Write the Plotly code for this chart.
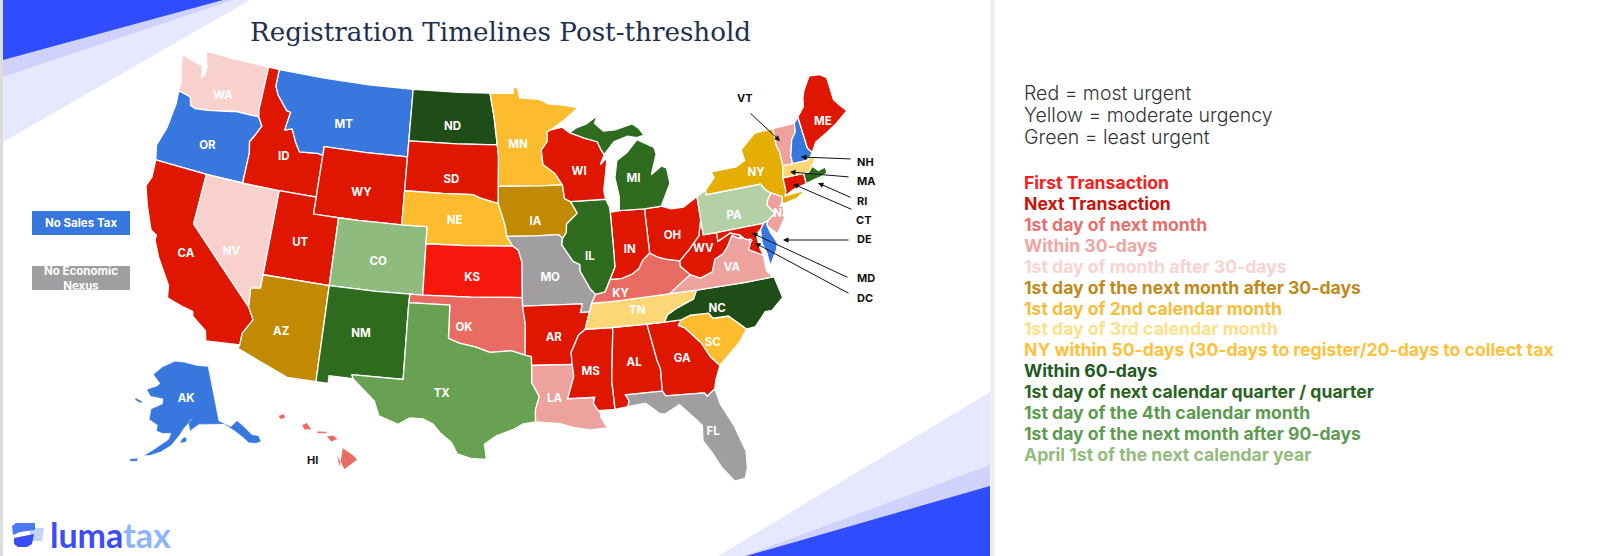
import plotly.graph_objects as go

# state outlines, lon/lat
WA = [(-124.7,48.4),(-123.1,48.15),(-122.7,48.1),(-122.5,47.4),(-122.3,47.6),(-122.3,48.1),(-122.5,48.5),(-122.75,49),(-120,49),(-117.03,49),(-117.04,46.42),(-116.92,45.99),(-118.98,46),(-119.3,45.93),(-121.2,45.65),(-122.3,45.55),(-122.75,45.65),(-122.95,46.1),(-123.4,46.2),(-124.05,46.27),(-124.1,46.9),(-124.4,47.5)]
OR = [(-124.05,46.27),(-123.4,46.2),(-122.95,46.1),(-122.75,45.65),(-122.3,45.55),(-121.2,45.65),(-119.3,45.93),(-118.98,46),(-116.92,45.99),(-116.5,45.5),(-116.85,44.95),(-117.22,44.45),(-117.03,43.8),(-117.03,42),(-120,42),(-124.21,42),(-124.5,42.85),(-124.1,44),(-123.95,45.5)]
CA = [(-124.21,42),(-120,42),(-120,39),(-114.63,35),(-114.14,34.3),(-114.72,33.4),(-114.72,32.72),(-117.12,32.53),(-117.3,33.1),(-118.4,33.75),(-118.5,34.03),(-119.2,34.15),(-120.5,34.45),(-120.65,35.15),(-121.9,36.6),(-122.5,37.5),(-122.5,37.8),(-123,38),(-123.8,39.3),(-124.35,40.4),(-124.1,41)]
NV = [(-120,42),(-117.03,42),(-114.04,42),(-114.04,37),(-114.04,36.2),(-114.75,36.1),(-114.63,35),(-120,39)]
ID = [(-117.03,49),(-116.05,49),(-116.05,48),(-115.7,47.5),(-114.7,46.7),(-114.35,46.65),(-114.55,45.56),(-113.95,45.7),(-113.45,44.95),(-113,44.45),(-111.5,44.55),(-111.05,44.48),(-111.05,42),(-114.04,42),(-117.03,42),(-117.03,43.8),(-117.22,44.45),(-116.85,44.95),(-116.5,45.5),(-116.92,45.99),(-117.04,46.42)]
MT = [(-116.05,49),(-112,49),(-108,49),(-104.05,49),(-104.05,45.94),(-104.05,45),(-107.5,45),(-111.05,45),(-111.05,44.48),(-111.5,44.55),(-113,44.45),(-113.45,44.95),(-113.95,45.7),(-114.55,45.56),(-114.35,46.65),(-114.7,46.7),(-115.7,47.5),(-116.05,48)]
WY = [(-111.05,45),(-107.5,45),(-104.05,45),(-104.05,43),(-104.05,41),(-107.5,41),(-111.05,41),(-111.05,42),(-111.05,44.48)]
UT = [(-114.04,42),(-111.05,42),(-111.05,41),(-109.05,41),(-109.05,37),(-114.04,37)]
AZ = [(-114.04,37),(-109.05,37),(-109.05,31.33),(-111.07,31.33),(-114.81,32.49),(-114.72,32.72),(-114.72,33.4),(-114.14,34.3),(-114.63,35),(-114.75,36.1),(-114.04,36.2)]
CO = [(-109.05,41),(-107.5,41),(-104.05,41),(-102.05,41),(-102.05,40),(-102.05,37),(-103,37),(-105.5,37),(-109.05,37)]
NM = [(-109.05,37),(-105.5,37),(-103,37),(-103.04,36.5),(-103.04,32),(-106.62,32),(-106.53,31.78),(-108.2,31.78),(-108.2,31.33),(-109.05,31.33)]
ND = [(-104.05,49),(-100,49),(-97.23,49),(-96.85,47.6),(-96.56,45.94),(-100,45.94),(-104.05,45.94)]
SD = [(-104.05,45.94),(-100,45.94),(-96.56,45.94),(-96.45,45.3),(-96.45,43.5),(-96.45,42.49),(-97.9,42.8),(-98.5,43),(-101,43),(-104.05,43)]
NE = [(-104.05,43),(-101,43),(-98.5,43),(-97.9,42.8),(-96.45,42.49),(-96.1,41.7),(-95.9,41.2),(-95.77,40.58),(-95.3,40),(-99,40),(-102.05,40),(-102.05,41),(-104.05,41)]
KS = [(-102.05,40),(-99,40),(-95.3,40),(-94.9,39.8),(-94.62,39.1),(-94.62,37),(-98.5,37),(-102.05,37)]
OK = [(-103,37),(-102.05,37),(-98.5,37),(-94.62,37),(-94.62,36.5),(-94.43,35.4),(-94.48,33.64),(-95.5,33.9),(-97,33.8),(-98,34.1),(-99.2,34.3),(-100,34.56),(-100,36.5),(-103.04,36.5)]
# south Texas drawn shorter, as the picture has it
TX = [(-103.04,36.5),(-100,36.5),(-100,34.56),(-99.2,34.3),(-98,34.1),(-97,33.8),(-95.5,33.9),(-94.48,33.64),(-94.04,33.55),(-94.04,33.02),(-94.04,31.99),(-93.55,31.2),(-93.84,30.4),(-93.85,29.7),(-94.7,29.6),(-95.3,29.3),(-96.5,28.9),(-97.3,28.4),(-97.15,27.5),(-98.2,27.55),(-99.1,27.8),(-99.5,28.45),(-100.3,29),(-100.8,29.5),(-101.5,29.77),(-102.4,29.77),(-103.15,29.35),(-104.5,29.75),(-104.9,30.6),(-106.53,31.78),(-106.62,32),(-103.04,32)]
MN = [(-97.23,49),(-95.15,49),(-95.15,49.38),(-94.8,49.3),(-94.6,48.72),(-92.9,48.6),(-92,48.3),(-90.8,48.2),(-89.5,48),(-90.8,47.3),(-92.05,46.75),(-92.3,46.65),(-92.3,46.1),(-92.85,45.6),(-92.75,44.75),(-91.8,44.2),(-91.22,43.5),(-93,43.5),(-96.45,43.5),(-96.45,45.3),(-96.56,45.94),(-96.85,47.6)]
IA = [(-96.45,43.5),(-93,43.5),(-91.22,43.5),(-91.1,42.7),(-90.64,42.5),(-90.15,41.8),(-91.05,41.2),(-91.1,40.7),(-91.42,40.38),(-91.73,40.61),(-93.5,40.58),(-95.77,40.58),(-95.9,41.2),(-96.1,41.7),(-96.45,42.49)]
MO = [(-95.77,40.58),(-93.5,40.58),(-91.73,40.61),(-91.42,40.38),(-91.5,40),(-90.7,39),(-90.2,38.8),(-90.2,38.4),(-89.5,37.3),(-89.15,37),(-89.5,36.5),(-89.7,36),(-90.37,36),(-90.2,36.5),(-94.62,36.5),(-94.62,37),(-94.62,39.1),(-94.9,39.8),(-95.3,40)]
AR = [(-94.62,36.5),(-90.2,36.5),(-90.37,36),(-89.7,36),(-90.1,35),(-90.6,34.7),(-91.2,33.7),(-91.17,33),(-94.04,33.02),(-94.04,33.55),(-94.48,33.64),(-94.43,35.4)]
LA = [(-94.04,33.02),(-91.17,33),(-91.1,32.3),(-91.6,31),(-89.73,31),(-89.85,30.65),(-89.55,30.2),(-89.4,30.05),(-89.4,29.8),(-89,29.15),(-90.2,29.1),(-91.3,29.3),(-92.2,29.55),(-93.85,29.7),(-93.84,30.4),(-93.55,31.2),(-94.04,31.99)]
MS = [(-91.17,33),(-91.2,33.7),(-90.6,34.7),(-90.1,35),(-88.2,35),(-88.1,34.9),(-88.47,31.9),(-88.4,30.2),(-89.55,30.2),(-89.85,30.65),(-89.73,31),(-91.6,31),(-91.1,32.3)]
AL = [(-88.2,35),(-85.6,35),(-85.18,32.87),(-85,32.3),(-85.05,31),(-87.6,31),(-87.4,30.65),(-87.5,30.3),(-88,30.25),(-88.4,30.2),(-88.47,31.9),(-88.1,34.9)]
GA = [(-85.6,35),(-84.32,35),(-83.1,35),(-83.35,34.7),(-82.9,34.5),(-81.9,33.5),(-81.4,32.6),(-80.85,32.03),(-81.3,31.2),(-81.45,30.72),(-82.05,30.36),(-82.2,30.57),(-84.86,30.7),(-85.05,31),(-85,32.3),(-85.18,32.87)]
FL = [(-87.6,31),(-85.05,31),(-84.86,30.7),(-82.2,30.57),(-82.05,30.36),(-81.45,30.72),(-81.25,29.8),(-80.55,28.4),(-80.05,26.8),(-80.15,25.75),(-80.4,25.2),(-81.1,25.15),(-81.8,26.1),(-82.2,26.9),(-82.75,27.8),(-82.65,28.7),(-83.4,29.5),(-84,30.1),(-85,29.65),(-85.4,29.7),(-86.3,30.4),(-87.5,30.3),(-87.4,30.65)]
SC = [(-83.35,34.7),(-83.1,35),(-82.4,35.2),(-81.05,35.15),(-80.8,34.82),(-79.67,34.8),(-78.55,33.86),(-79.2,33.2),(-79.9,32.7),(-80.85,32.03),(-81.4,32.6),(-81.9,33.5),(-82.9,34.5)]
NC = [(-84.32,35),(-83.1,35),(-82.4,35.2),(-81.05,35.15),(-80.8,34.82),(-79.67,34.8),(-78.55,33.86),(-77.9,33.9),(-77,34.65),(-76.5,34.65),(-75.55,35.25),(-75.85,36.55),(-78,36.55),(-81.68,36.59),(-82,36.1),(-83.2,35.75),(-84.05,35.4)]
TN = [(-89.5,36.5),(-88,36.5),(-84,36.6),(-83.68,36.6),(-81.68,36.59),(-82,36.1),(-83.2,35.75),(-84.05,35.4),(-84.32,35),(-85.6,35),(-88.2,35),(-90.1,35),(-89.7,36)]
KY = [(-89.15,37),(-88.45,37.1),(-88,37.8),(-87.1,37.8),(-86.3,38),(-85.75,38.27),(-85.4,38.73),(-84.8,39.1),(-84.2,38.8),(-83.65,38.63),(-82.6,38.42),(-82.6,38.1),(-81.97,37.54),(-83.68,36.6),(-84,36.6),(-88,36.5),(-89.5,36.5)]
VA = [(-83.68,36.6),(-81.97,37.54),(-81.25,37.25),(-80.3,37.5),(-79.95,38.2),(-79.3,38.42),(-78.87,38.77),(-78.35,39.4),(-77.83,39.14),(-77.5,39.1),(-77.12,38.93),(-77.04,38.8),(-77.3,38.4),(-76.3,37.9),(-76.3,37),(-75.95,36.55),(-75.85,36.55),(-78,36.55),(-81.68,36.59)]
WV = [(-81.97,37.54),(-82.6,38.1),(-82.6,38.42),(-81.75,39),(-80.87,39.7),(-80.52,40.64),(-80.52,39.72),(-79.48,39.72),(-79.48,39.2),(-78.45,39.55),(-77.72,39.32),(-77.83,39.14),(-78.35,39.4),(-78.87,38.77),(-79.3,38.42),(-79.95,38.2),(-80.3,37.5),(-81.25,37.25)]
OH = [(-84.8,39.1),(-84.2,38.8),(-83.65,38.63),(-82.6,38.42),(-81.75,39),(-80.87,39.7),(-80.52,40.64),(-80.52,41.98),(-81.7,41.5),(-82.7,41.5),(-83.45,41.73),(-84.8,41.7)]
IN = [(-84.8,41.7),(-84.8,39.1),(-85.4,38.73),(-85.75,38.27),(-86.3,38),(-87.1,37.8),(-88,37.8),(-87.55,38.5),(-87.53,39.35),(-87.53,41.7),(-86.8,41.76)]
IL = [(-87.53,41.7),(-87.53,39.35),(-87.55,38.5),(-88,37.8),(-88.45,37.1),(-89.15,37),(-89.5,37.3),(-90.2,38.4),(-90.2,38.8),(-90.7,39),(-91.5,40),(-91.42,40.38),(-91.1,40.7),(-91.05,41.2),(-90.15,41.8),(-90.64,42.5),(-87.8,42.49),(-87.55,42)]
WI = [(-90.64,42.5),(-91.1,42.7),(-91.22,43.5),(-91.8,44.2),(-92.75,44.75),(-92.85,45.6),(-92.3,46.1),(-92.3,46.65),(-92.05,46.75),(-91,46.9),(-90.4,46.55),(-89.1,46.15),(-88.1,45.9),(-87.8,45.35),(-87.6,45.1),(-88,44.55),(-87.4,44.9),(-87.55,44.3),(-87.9,43),(-87.8,42.49)]
MI_LOWER = [(-86.8,41.76),(-84.8,41.7),(-83.45,41.73),(-83.1,42.2),(-82.5,43),(-82.6,43.9),(-83,44.07),(-83.9,43.65),(-83.3,44.8),(-83.4,45.2),(-84.75,45.78),(-85.7,45.1),(-86.6,44.7),(-86.9,43.7),(-86.7,42.6)]
MI_UPPER = [(-90.4,46.55),(-89.1,46.15),(-88.1,45.9),(-87.8,45.35),(-87.6,45.1),(-86.7,45.8),(-85.5,46.05),(-84.75,45.9),(-84.1,46),(-84.5,46.45),(-85,46.75),(-86.5,46.5),(-87.5,46.5),(-88.2,47),(-87.9,47.45),(-88.9,47),(-89.8,46.8)]
PA = [(-80.52,41.98),(-79.76,42.27),(-79.76,42),(-75.35,42),(-75.05,41.6),(-74.7,41.36),(-75.1,40.95),(-75.2,40.7),(-74.72,40.15),(-75.4,39.82),(-75.79,39.72),(-79.48,39.72),(-80.52,39.72),(-80.52,40.64)]
NY = [(-79.76,42),(-79.76,42.27),(-78.9,42.9),(-79.05,43.27),(-77,43.28),(-76.2,43.55),(-76.3,44.2),(-75,44.95),(-74.7,45),(-73.35,45),(-73.4,44),(-73.25,43.55),(-73.28,42.75),(-73.5,42.05),(-73.5,41.3),(-73.65,41),(-72,41.05),(-72.8,40.7),(-73.9,40.58),(-74,40.7),(-73.9,41),(-74.7,41.36),(-75.05,41.6),(-75.35,42)]
NJ = [(-74.7,41.36),(-73.9,41),(-74,40.7),(-74.25,40.48),(-74,40.45),(-74.1,39.75),(-74.9,38.95),(-75.4,39.4),(-75.55,39.6),(-75.4,39.82),(-74.72,40.15),(-75.2,40.7),(-75.1,40.95)]
DE = [(-75.79,39.72),(-75.4,39.82),(-75.55,39.6),(-75.4,39.1),(-75.05,38.45),(-75.25,38.03),(-75.95,37.2),(-76,37.95),(-76.2,38.6),(-76.1,39.4)]
MD = [(-79.48,39.72),(-75.79,39.72),(-76.1,39.4),(-76.5,39.2),(-76.45,38.4),(-76.3,37.9),(-77.3,38.4),(-77.04,38.8),(-77.12,38.93),(-77.5,39.1),(-77.72,39.32),(-78.45,39.55),(-79.48,39.2)]
DC = [(-77.12,38.93),(-77.04,39),(-76.91,38.89),(-77.04,38.8)]
CT = [(-73.5,42.05),(-71.8,42.02),(-71.8,41.4),(-72.9,41.25),(-73.65,41),(-73.5,41.3)]
RI = [(-71.8,42.02),(-71.38,42.02),(-71,42.3),(-70.6,41.95),(-70,42.05),(-70,41.67),(-70.65,41.55),(-71.15,41.5),(-71.8,41.4)]
MA = [(-73.5,42.05),(-73.28,42.75),(-71.3,42.7),(-70.9,42.88),(-70.6,42.65),(-71,42.3),(-71.38,42.02),(-71.8,42.02)]
VT = [(-73.35,45),(-71.5,45.01),(-71.6,44.5),(-72.05,44.1),(-72.45,43.2),(-72.46,42.73),(-73.28,42.75),(-73.25,43.55),(-73.4,44)]
NH = [(-71.5,45.01),(-71.08,45.3),(-70.98,43.4),(-70.7,43.07),(-70.9,42.88),(-71.3,42.7),(-72.46,42.73),(-72.45,43.2),(-72.05,44.1),(-71.6,44.5)]
ME = [(-71.08,45.3),(-70.4,45.8),(-70.25,46.3),(-70,46.7),(-69.22,47.46),(-68.3,47.35),(-67.8,47.07),(-67.8,45.7),(-67.45,45.3),(-67,44.85),(-68.2,44.3),(-69,44),(-70.2,43.6),(-70.7,43.07),(-70.98,43.4)]
AK_MAIN = [(-141,69.65),(-141,60.3),(-137.5,58.9),(-135,59.6),(-133.5,58.4),(-131.8,56.6),(-130,56),(-130,55),(-131.5,55),(-133.5,55.5),(-134.5,56.5),(-136.5,58),(-139.5,59.6),(-144,60),(-148,60.2),(-151,59.2),(-151.5,60.8),(-150,61.2),(-153,59.7),(-154.5,58.5),(-157,56.8),(-160,55.6),(-163,54.8),(-164.8,54.6),(-162,55.9),(-158,57.7),(-157.2,58.8),(-160,58.7),(-162,59),(-162,60),(-165,60.7),(-165,62.5),(-161,63.6),(-161,64.5),(-166,64.6),(-168,65.6),(-164,66.5),(-163,67),(-166.5,68.3),(-163,69.8),(-157,71),(-152,70.8),(-146,70.1)]
AK_KODIAK = [(-154.4,57.2),(-152.3,57.4),(-152.3,58.2),(-153.5,58)]
AK_UNALASKA = [(-168.5,53.2),(-166.4,53.5),(-166.4,53.95),(-168.5,53.6)]
AK_STLAWRENCE = [(-171.5,63.4),(-168.8,63.1),(-169,63.5),(-171.5,63.75)]
HI_BIG = [(-155.9,19.05),(-155.7,20.2),(-155,19.75),(-154.8,19.5),(-155.6,18.95),(-156.05,19.8)]
HI_MAUI = [(-156.7,20.9),(-156.3,20.95),(-156,20.75),(-156.4,20.58)]
HI_MOLOKAI = [(-157.3,21.2),(-156.7,21.17),(-156.7,21.07),(-157.3,21.08)]
HI_OAHU = [(-158.25,21.55),(-157.95,21.7),(-157.65,21.3),(-158.1,21.3)]
HI_KAUAI = [(-159.75,22.1),(-159.4,22.22),(-159.3,22),(-159.6,21.9)]

# colours by urgency group
RED = "#df1600"
BRIGHT = "#f6180c"
SALMON = "#e96c62"
PINK = "#eda29e"
PALE = "#f8d1ce"
DARKGOLD = "#c18a02"
GOLD = "#e4ae04"
ORANGE = "#fcbc2d"
LIGHTGOLD = "#fdd676"
DARKGREEN = "#1f4d17"
GREEN = "#2f6b1f"
MIDGREEN = "#69a152"
SAGE = "#90bb7e"
PALEGREEN = "#b3d0a6"
BLUE = "#3878de"
GREY = "#a09ea0"

state_shapes = {
    "WA": ([WA], PALE), "OR": ([OR], BLUE), "CA": ([CA], RED), "NV": ([NV], PALE), "ID": ([ID], RED),
    "MT": ([MT], BLUE), "WY": ([WY], RED), "UT": ([UT], RED), "AZ": ([AZ], DARKGOLD), "CO": ([CO], SAGE),
    "NM": ([NM], GREEN), "ND": ([ND], DARKGREEN), "SD": ([SD], RED), "NE": ([NE], ORANGE), "KS": ([KS], BRIGHT),
    "OK": ([OK], SALMON), "TX": ([TX], MIDGREEN), "MN": ([MN], ORANGE), "IA": ([IA], DARKGOLD), "MO": ([MO], GREY),
    "AR": ([AR], RED), "LA": ([LA], PINK), "MS": ([MS], RED), "AL": ([AL], RED), "GA": ([GA], RED),
    "FL": ([FL], GREY), "SC": ([SC], ORANGE), "NC": ([NC], DARKGREEN), "TN": ([TN], LIGHTGOLD), "KY": ([KY], SALMON),
    "VA": ([VA], PINK), "WV": ([WV], RED), "OH": ([OH], RED), "IN": ([IN], RED), "IL": ([IL], GREEN),
    "WI": ([WI], RED), "MI": ([MI_LOWER, MI_UPPER], GREEN), "PA": ([PA], PALEGREEN), "NY": ([NY], GOLD), "NJ": ([NJ], PINK),
    "DE": ([DE], BLUE), "MD": ([MD], RED), "DC": ([DC], RED), "CT": ([CT], RED), "RI": ([RI], GREEN),
    "MA": ([MA], LIGHTGOLD), "VT": ([VT], PINK), "NH": ([NH], BLUE), "ME": ([ME], RED),
    "AK": ([AK_MAIN, AK_KODIAK, AK_UNALASKA, AK_STLAWRENCE], BLUE),
    "HI": ([HI_BIG, HI_MAUI, HI_MOLOKAI, HI_OAHU, HI_KAUAI], SALMON),
}

label_names = ["WA","OR","CA","NV","ID","MT","WY","UT","AZ","CO","NM","ND","SD","NE","KS","OK","TX","MN","IA","MO","AR","LA","WI","IL","IN","MI","OH","KY","TN","MS","AL","GA","FL","SC","NC","VA","WV","PA","NY","NJ","ME"]
label_lon = [-120.3,-120.5,-120,-116.7,-114.2,-109.7,-107.5,-111.7,-112,-105.6,-106.3,-100.4,-100.3,-99.9,-98.4,-98.9,-100.3,-94.8,-93.5,-92.5,-92.4,-92.5,-89.8,-89.4,-86.3,-85.4,-82.9,-87.3,-86.2,-89.9,-86.8,-83.4,-82,-81.1,-80.4,-78.8,-80.7,-77.9,-75.5,-74.3,-69.2]
label_lat = [46.7,43.6,37.2,37.9,44,46.4,42.6,39.2,33.9,38.7,34.4,46.9,43.8,41.4,38.1,35.2,31.3,45.9,41.4,38.1,34.6,31,44.2,39.2,39.4,43.5,39.9,36.9,35.8,32.5,32.8,32.7,28.2,33.4,35.3,37.5,38.9,40.5,42.7,40,44.6]

legend_lines = ["First Transaction","Next Transaction","1st day of next month","Within 30-days","1st day of month after 30-days","1st day of the next month after 30-days","1st day of 2nd calendar month","1st day of 3rd calendar month","NY within 50-days (30-days to register/20-days to collect tax","Within 60-days","1st day of next calendar quarter / quarter","1st day of the 4th calendar month","1st day of the next month after 90-days","April 1st of the next calendar year"]
legend_colors = ["#f5211f","#c8140c","#e5706c","#eea6a3","#f8d3d1","#c08a1a","#f5bd3a","#fde08a","#ffc03a","#1f5a1f","#2a6322","#5c9a50","#5f9a52","#93bb7e"]
urgency_lines = ["Red = most urgent","Yellow = moderate urgency","Green = least urgent"]

W, H = 1600, 556
INSET_GEO = {"AK": "geo2", "HI": "geo3"}


def px(x):
    return x / W


def py(y):
    return 1 - y / H


def ring_xy(ring):
    # d3 wants exterior rings clockwise, otherwise the fill covers the globe
    area = sum(a[0] * b[1] - b[0] * a[1] for a, b in zip(ring, ring[1:] + ring[:1]))
    pts = list(reversed(ring)) if area > 0 else list(ring)
    return pts + pts[:1]


def poly(points, color):
    d = "M " + " L ".join(f"{px(x)},{py(y)}" for x, y in points) + " Z"
    return dict(type="path", path=d, xref="paper", yref="paper", fillcolor=color, line_width=0, layer="below")


def geo_layout(x0, x1, y0, y1):
    return dict(
        domain=dict(x=[px(x0), px(x1)], y=[py(y1), py(y0)]),
        projection=dict(type="albers usa", scale=1.0),
        bgcolor="rgba(0,0,0,0)",
        showland=False, showocean=False, showlakes=False, showrivers=False,
        showcountries=False, showcoastlines=False, showsubunits=False, showframe=False,
    )


fig = go.Figure()

for name, (rings, color) in state_shapes.items():
    lon, lat = [], []
    for ring in rings:
        pts = ring_xy(ring)
        lon += [p[0] for p in pts] + [None]
        lat += [p[1] for p in pts] + [None]
    # Alaska and Hawaii sit in their own inset geos
    fig.add_trace(go.Scattergeo(lon=lon[:-1], lat=lat[:-1], mode="lines", fill="toself", fillcolor=color,
                                line=dict(color="#ffffff", width=0.3 if name in INSET_GEO else 1.3),
                                name=name, hoverinfo="name", geo=INSET_GEO.get(name, "geo")))

fig.add_trace(go.Scattergeo(lon=label_lon, lat=label_lat, text=label_names, mode="text",
                            textfont=dict(family="Inter", size=11.5, color="#ffffff", weight=700), hoverinfo="skip"))
fig.add_trace(go.Scattergeo(lon=[-152], lat=[64.5], text=["AK"], mode="text", geo="geo2",
                            textfont=dict(family="Inter", size=11.5, color="#ffffff", weight=700), hoverinfo="skip"))

# background slants and panel edges
shapes = [
    poly([(0, 0), (3, 0), (3, 556), (0, 556)], "#dcdcdc"),
    poly([(990, 0), (995, 0), (995, 556), (990, 556)], "#efefef"),
    poly([(3, 142), (250, 0), (3, 0)], "#e6e8fd"),
    poly([(3, 77), (233, 0), (3, 0)], "#cfd3fb"),
    poly([(3, 60), (223, 0), (3, 0)], "#2f4dff"),
    poly([(990, 392), (718, 556), (990, 556)], "#e6e8fd"),
    poly([(990, 465), (744, 556), (990, 556)], "#cfd3fb"),
    poly([(990, 486), (746, 556), (990, 556)], "#2f4dff"),
    poly([(32, 211), (130, 211), (130, 235), (32, 235)], BLUE),
    poly([(32, 266), (130, 266), (130, 290), (32, 290)], GREY),
    poly([(30, 528), (44, 528), (42, 541), (30, 541)], "#c3d3fb"),
    poly([(12, 526), (16, 523), (35, 523), (35, 530), (20, 532), (13, 535)], "#4a78f5"),
    poly([(14, 538), (34, 534), (32, 544), (27, 547), (18, 547), (14, 544)], "#3d4df5"),
]
fig.update_layout(shapes=shapes)


def add_text(x, y, text, size, color, family="Inter", weight=400, anchor="left"):
    fig.add_annotation(x=px(x), y=py(y), xref="paper", yref="paper", text=text, showarrow=False, xanchor=anchor,
                       yanchor="middle", font=dict(family=family, size=size, color=color, weight=weight))


def add_arrow(x0, y0, x1, y1):
    fig.add_annotation(x=px(x1), y=py(y1), xref="paper", yref="paper", ax=x0 - x1, ay=y0 - y1, text="",
                       showarrow=True, arrowhead=2, arrowsize=1.1, arrowwidth=1, arrowcolor="#111111")


add_text(500, 32, "Registration Timelines Post-threshold", 26.2, "#1f2f4f", family="DejaVu Serif", anchor="center")
add_text(81, 223, "No Sales Tax", 11.5, "#ffffff", weight=700, anchor="center")
add_text(81, 278, "No Economic<br>Nexus", 11.5, "#ffffff", weight=700, anchor="center")
add_text(48, 534, '<span style="color:#3d4df5">luma</span><span style="color:#8fb4ff">tax</span>', 34, "#3d4df5", family="Lato", weight=700)

for line, y in zip(urgency_lines, [93, 115, 137]):
    add_text(1022, y, line, 19.5, "#333333", weight=300)

for i, (line, color) in enumerate(zip(legend_lines, legend_colors)):
    add_text(1022, 183 + i * 20.85, line, 17.6, color, weight=700)

for lab, x, y in [("VT", 745, 98), ("NH", 865, 162), ("MA", 866, 181), ("RI", 862, 201), ("CT", 863, 220),
                  ("DE", 864, 239), ("MD", 866, 278), ("DC", 865, 298), ("HI", 312, 460)]:
    add_text(x, y, lab, 11, "#111111", weight=700, anchor="center")

add_arrow(749, 112, 780, 141)
add_arrow(852, 159, 801, 157)
add_arrow(850, 177, 790, 172)
add_arrow(852, 198, 818, 183)
add_arrow(853, 210, 793, 184)
add_arrow(850, 240, 783, 240)
add_arrow(849, 278, 752, 233)
add_arrow(850, 294, 755, 243)

fig.update_layout(
    width=W, height=H, margin=dict(l=0, r=0, t=0, b=0), showlegend=False,
    paper_bgcolor="#ffffff", plot_bgcolor="#ffffff",
    geo=geo_layout(53.5, 938.5, 22, 515),
    geo2=geo_layout(31, 915, 0, 480),
    geo3=geo_layout(31, 915, 0, 494),
)

fig.write_html("out.html", config={"displayModeBar": False}, post_script="document.body.style.margin = '0';")
